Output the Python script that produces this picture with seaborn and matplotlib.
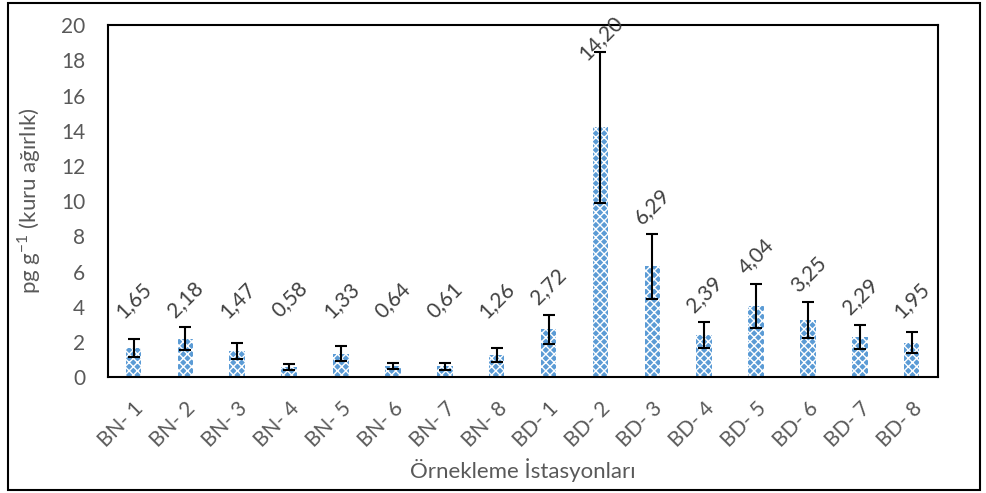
import numpy as np
import pandas as pd
import seaborn as sns
from matplotlib import pyplot as plt
from matplotlib.patches import Rectangle

stations = ["BN- 1", "BN- 2", "BN- 3", "BN- 4", "BN- 5", "BN- 6", "BN- 7", "BN- 8",
            "BD- 1", "BD- 2", "BD- 3", "BD- 4", "BD- 5", "BD- 6", "BD- 7", "BD- 8"]
values = [1.65, 2.18, 1.47, 0.58, 1.33, 0.64, 0.61, 1.26,
          2.72, 14.20, 6.29, 2.39, 4.04, 3.25, 2.29, 1.95]
errors = [0.50, 0.65, 0.45, 0.15, 0.42, 0.18, 0.18, 0.38,
          0.83, 4.30, 1.85, 0.75, 1.25, 1.00, 0.70, 0.60]

df = pd.DataFrame({"station": stations, "value": values, "err": errors})

sns.set_style("white")
plt.rcParams['font.family'] = ['Lato', 'DejaVu Sans']
plt.rcParams['hatch.linewidth'] = 1.0

fig = plt.figure(figsize=(9.87, 4.93), dpi=100)
ax = fig.add_axes([0.109, 0.235, 0.841, 0.714])

sns.barplot(data=df, x="station", y="value", color="#5B9BD5", saturation=1,
            width=0.3, ax=ax, errorbar=None)
for p in ax.patches:
    p.set_hatch("xxxx")
    p.set_edgecolor("white")
    p.set_linewidth(0)
    p.set_facecolor("#5b9bd5")

x = np.arange(len(stations))
ax.errorbar(x, df["value"], yerr=df["err"], fmt="none", ecolor="black",
            elinewidth=1.5, capsize=4.5, capthick=1.5)

# data labels, rotated like the original
for xi, v, e in zip(x, values, errors):
    y = min(max(v + e + 1.6, 4.4), 19.3)
    ax.text(xi, y, f"{v:.2f}".replace(".", ","), rotation=45, ha="center",
            va="center", fontsize=15, color="#404040")

ax.set_ylim(0, 20)
ax.set_xlim(-0.5, len(stations) - 0.5)
ax.set_yticks(range(0, 21, 2))
ax.tick_params(axis="both", length=0, labelsize=15, labelcolor="#595959")
plt.setp(ax.get_xticklabels(), rotation=45, ha="right", rotation_mode="anchor")
ax.tick_params(axis="x", pad=15)
ax.tick_params(axis="y", pad=16)
ax.set_xlabel("Örnekleme İstasyonları", fontsize=16, color="#595959")
ax.set_ylabel("pg g$^{\\mathdefault{-1}}$ (kuru ağırlık)", fontsize=16,
              color="#595959")
ax.xaxis.set_label_coords(0.5, -0.23)
ax.yaxis.set_label_coords(-0.078, 0.5)

for s in ax.spines.values():
    s.set_visible(True)
    s.set_color("black")
    s.set_linewidth(1.5)

fig.patches.append(Rectangle((8 / 987, 3 / 493), 972 / 987, 487 / 493,
                             transform=fig.transFigure, fill=False,
                             edgecolor="black", linewidth=1.5))

fig.savefig("out.png", dpi=100)
